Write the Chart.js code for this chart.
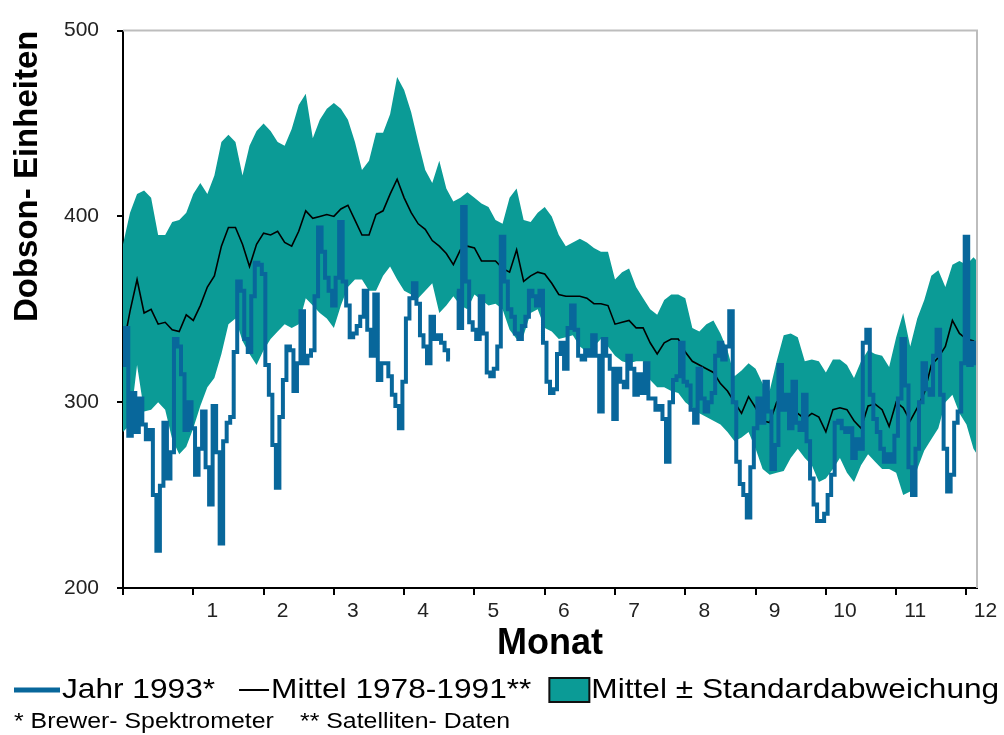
<!DOCTYPE html>
<html lang="de">
<head>
    <meta charset="UTF-8">
    <title>Ozon 1993 - Dobson-Einheiten</title>
    <script src="https://cdn.jsdelivr.net/npm/chart.js"></script>
    <style>
        html, body { margin: 0; padding: 0; background: #fff; }
        #wrap { width: 1004px; height: 735px; }
    </style>
</head>
<body>
    <div id="wrap"><canvas id="ozonChart" width="1004" height="735"></canvas></div>

    <script>
        // Werte (Dobson-Einheiten)
        const monthLabels = ['1', '2', '3', '4', '5', '6', '7', '8', '9', '10', '11', '12'];
        const BAND_STEP = 0.1;   // Monate zwischen zwei Werten (Band + Mittel)
        const JAHR_STEP = 0.05;  // Monate zwischen zwei Werten (1993)
        const X_MAX = 12.15;

        // Mittel + Standardabweichung
        const upperBand = [
            385,402,412,414,410,390,390,397,398,402,
            412,418,412,422,440,444,440,422,438,446,
            450,446,440,438,447,460,466,442,452,458,
            461,458,452,440,425,430,445,445,455,475,
            468,456,440,425,418,430,415,408,410,413,
            410,407,405,398,396,410,415,398,397,402,
            405,400,390,384,386,388,386,383,381,381,
            366,370,372,362,356,350,347,355,358,358,
            356,340,338,342,344,337,328,314,317,321,
            318,310,306,322,336,337,335,322,323,322,
            316,323,323,320,313,322,328,326,325,319,
            335,348,330,345,355,368,371,362,374,376,
            374,378,376
        ];
        // Mittel - Standardabweichung
        const lowerBand = [
            284,288,320,295,296,300,296,280,272,276,
            286,298,308,313,326,342,345,333,326,320,
            328,334,338,342,340,342,356,352,348,345,
            340,352,362,366,366,360,360,368,373,366,
            360,358,356,360,364,348,352,357,352,350,
            358,355,352,353,350,339,334,336,348,350,
            340,338,334,335,336,330,327,330,334,330,
            325,322,321,322,322,312,308,308,306,305,
            300,297,294,292,290,288,284,279,281,284,
            275,264,261,262,263,270,275,270,266,257,
            259,264,270,262,257,266,272,268,264,264,
            262,250,252,264,274,280,286,300,304,294,
            288,275,272
        ];
        // Mittel 1978-1991
        const mittel = [
            329,349,366,348,350,342,343,339,338,347,
            344,352,362,368,384,394,394,385,373,385,
            391,390,392,386,384,392,403,399,400,401,
            400,404,406,398,390,390,401,403,412,420,
            410,402,396,393,387,384,380,374,382,384,
            383,376,376,376,372,370,382,365,368,370,
            369,364,358,357,357,357,356,353,353,352,
            342,343,344,340,340,332,326,332,334,334,
            327,322,320,318,316,310,306,300,294,303,
            297,290,289,300,304,298,294,291,294,292,
            284,296,297,296,290,286,298,299,296,287,
            300,297,290,297,305,320,324,330,344,337,
            334,333,327
        ];
        // Jahr 1993 (null = Messluecke)
        const jahr1993 = [
            320,340,282,305,284,302,288,280,285,250,
            220,255,289,259,273,334,330,315,285,300,
            286,261,275,295,265,245,298,273,224,279,
            289,292,327,365,360,334,327,357,375,374,
            369,320,304,277,254,292,312,330,328,306,
            321,349,321,325,328,357,394,381,367,360,
            352,367,397,365,352,335,337,341,346,360,
            339,325,358,312,321,321,314,304,298,286,
            311,345,356,364,353,336,330,321,346,334,
            336,332,328,323,null,360,340,405,365,343,
            339,334,357,337,316,314,318,330,389,365,
            350,346,337,334,341,346,360,357,352,360,
            332,311,305,307,326,332,318,340,352,339,
            325,323,328,325,336,325,295,334,325,318,
            291,318,311,308,325,318,304,315,305,321,
            302,302,296,298,291,268,300,312,314,332,
            311,309,296,289,318,302,295,300,305,325,
            332,323,330,349,300,268,256,250,238,265,
            286,302,289,311,295,264,277,320,296,304,
            286,311,289,285,304,279,259,245,236,236,
            240,250,261,289,290,286,284,286,270,280,
            275,332,339,304,291,284,275,268,272,268,
            282,302,334,309,265,250,275,300,321,307,
            304,325,339,304,275,252,261,289,295,321,
            389,320,332,321
        ];

        const legendLabels = ['Jahr 1993*', 'Mittel 1978-1991**', 'Mittel ± Standardabweichung'];
        const footnotes = ['* Brewer- Spektrometer', '** Satelliten- Daten'];

        const BLUE = '#08679b';
        const TEAL = '#0b9b96';
        const FONT = '"Liberation Sans", Arial, Helvetica, sans-serif';

        const toPoints = (vals, step) => vals.map((v, i) => ({ x: Math.min(i * step, X_MAX), y: v }));

        // grauer Rahmen oben und rechts
        const framePlugin = {
            id: 'frame',
            afterDatasetsDraw(chart) {
                const { ctx, chartArea: a } = chart;
                ctx.save();
                ctx.strokeStyle = '#bdbdbd';
                ctx.lineWidth = 2;
                ctx.beginPath();
                ctx.moveTo(a.left, a.top);
                ctx.lineTo(a.right, a.top);
                ctx.lineTo(a.right, a.bottom);
                ctx.stroke();
                ctx.restore();
            }
        };

        // Legende + Fussnoten wie im Original (Text leicht breitgezogen)
        const legendPlugin = {
            id: 'legendRow',
            afterDraw(chart) {
                const ctx = chart.ctx;
                const rowY = chart.height - 45;
                const noteY = chart.height - 13;
                const stretch = 1.13;
                const text = (s, x, y, size) => {
                    ctx.save();
                    ctx.font = size + 'px ' + FONT;
                    ctx.fillStyle = '#000';
                    ctx.textBaseline = 'middle';
                    ctx.translate(x, y);
                    ctx.scale(stretch, 1);
                    ctx.fillText(s, 0, 0);
                    const w = ctx.measureText(s).width * stretch;
                    ctx.restore();
                    return x + w;
                };
                ctx.save();
                let x = 14;
                ctx.strokeStyle = BLUE;
                ctx.lineWidth = 5;
                ctx.beginPath(); ctx.moveTo(x, rowY); ctx.lineTo(x + 46, rowY); ctx.stroke();
                x = text(legendLabels[0], x + 48, rowY, 28) + 24;

                ctx.strokeStyle = '#000';
                ctx.lineWidth = 2;
                ctx.beginPath(); ctx.moveTo(x, rowY); ctx.lineTo(x + 30, rowY); ctx.stroke();
                x = text(legendLabels[1], x + 32, rowY, 28) + 18;

                ctx.fillStyle = TEAL;
                ctx.fillRect(x, rowY - 12, 40, 24);
                ctx.strokeStyle = '#111';
                ctx.lineWidth = 2;
                ctx.strokeRect(x, rowY - 12, 40, 24);
                text(legendLabels[2], x + 42, rowY, 28);

                text(footnotes[0], 14, noteY, 22);
                text(footnotes[1], 300, noteY, 22);
                ctx.restore();
            }
        };

        Chart.defaults.font.family = FONT;
        Chart.defaults.color = '#222';

        const ctx = document.getElementById('ozonChart').getContext('2d');
        const ozonChart = new Chart(ctx, {
            type: 'line',
            data: {
                datasets: [
                    {
                        label: legendLabels[0],
                        data: toPoints(jahr1993, JAHR_STEP),
                        borderColor: BLUE,
                        borderWidth: 4,
                        stepped: 'middle',
                        pointRadius: 0,
                        fill: false,
                        spanGaps: false
                    },
                    {
                        label: legendLabels[1],
                        data: toPoints(mittel, BAND_STEP),
                        borderColor: '#000',
                        borderWidth: 1.6,
                        pointRadius: 0,
                        fill: false
                    },
                    {
                        label: 'Mittel + Standardabweichung',
                        data: toPoints(upperBand, BAND_STEP),
                        borderWidth: 0,
                        borderColor: TEAL,
                        backgroundColor: TEAL,
                        pointRadius: 0,
                        fill: '+1'
                    },
                    {
                        label: 'Mittel - Standardabweichung',
                        data: toPoints(lowerBand, BAND_STEP),
                        borderWidth: 0,
                        borderColor: TEAL,
                        pointRadius: 0,
                        fill: false
                    }
                ]
            },
            options: {
                responsive: false,
                animation: false,
                events: [],
                layout: { padding: { left: 0, right: 27, top: 24, bottom: 69 } },
                plugins: {
                    legend: { display: false },
                    tooltip: { enabled: false }
                },
                scales: {
                    x: {
                        type: 'linear',
                        min: 0,
                        max: X_MAX,
                        afterFit: s => { s.height = 78; },
                        border: { color: '#000', width: 2 },
                        grid: { drawOnChartArea: false, drawTicks: true, tickLength: 7, color: '#000', lineWidth: 2 },
                        ticks: {
                            stepSize: 1,
                            includeBounds: false,
                            autoSkip: false,
                            maxRotation: 0,
                            labelOffset: 19,
                            padding: 4,
                            font: { size: 21 },
                            color: '#222',
                            callback: v => (v >= 1 && v <= 12 ? monthLabels[v - 1] : '')
                        },
                        title: {
                            display: true,
                            text: 'Monat',
                            color: '#000',
                            font: { size: 36, weight: 'bold' },
                            padding: 0
                        }
                    },
                    y: {
                        min: 200,
                        max: 500,
                        afterFit: s => { s.width = 123; },
                        border: { color: '#000', width: 2 },
                        grid: { drawOnChartArea: false, drawTicks: true, tickLength: 6, color: '#000', lineWidth: 2 },
                        ticks: {
                            stepSize: 100,
                            padding: 18,
                            font: { size: 21 },
                            color: '#222'
                        },
                        title: {
                            display: true,
                            text: 'Dobson- Einheiten',
                            align: 'end',
                            color: '#000',
                            font: { size: 33, weight: 'bold' },
                            padding: { top: 8, bottom: 0 }
                        }
                    }
                }
            },
            plugins: [framePlugin, legendPlugin]
        });
    </script>
</body>
</html>
